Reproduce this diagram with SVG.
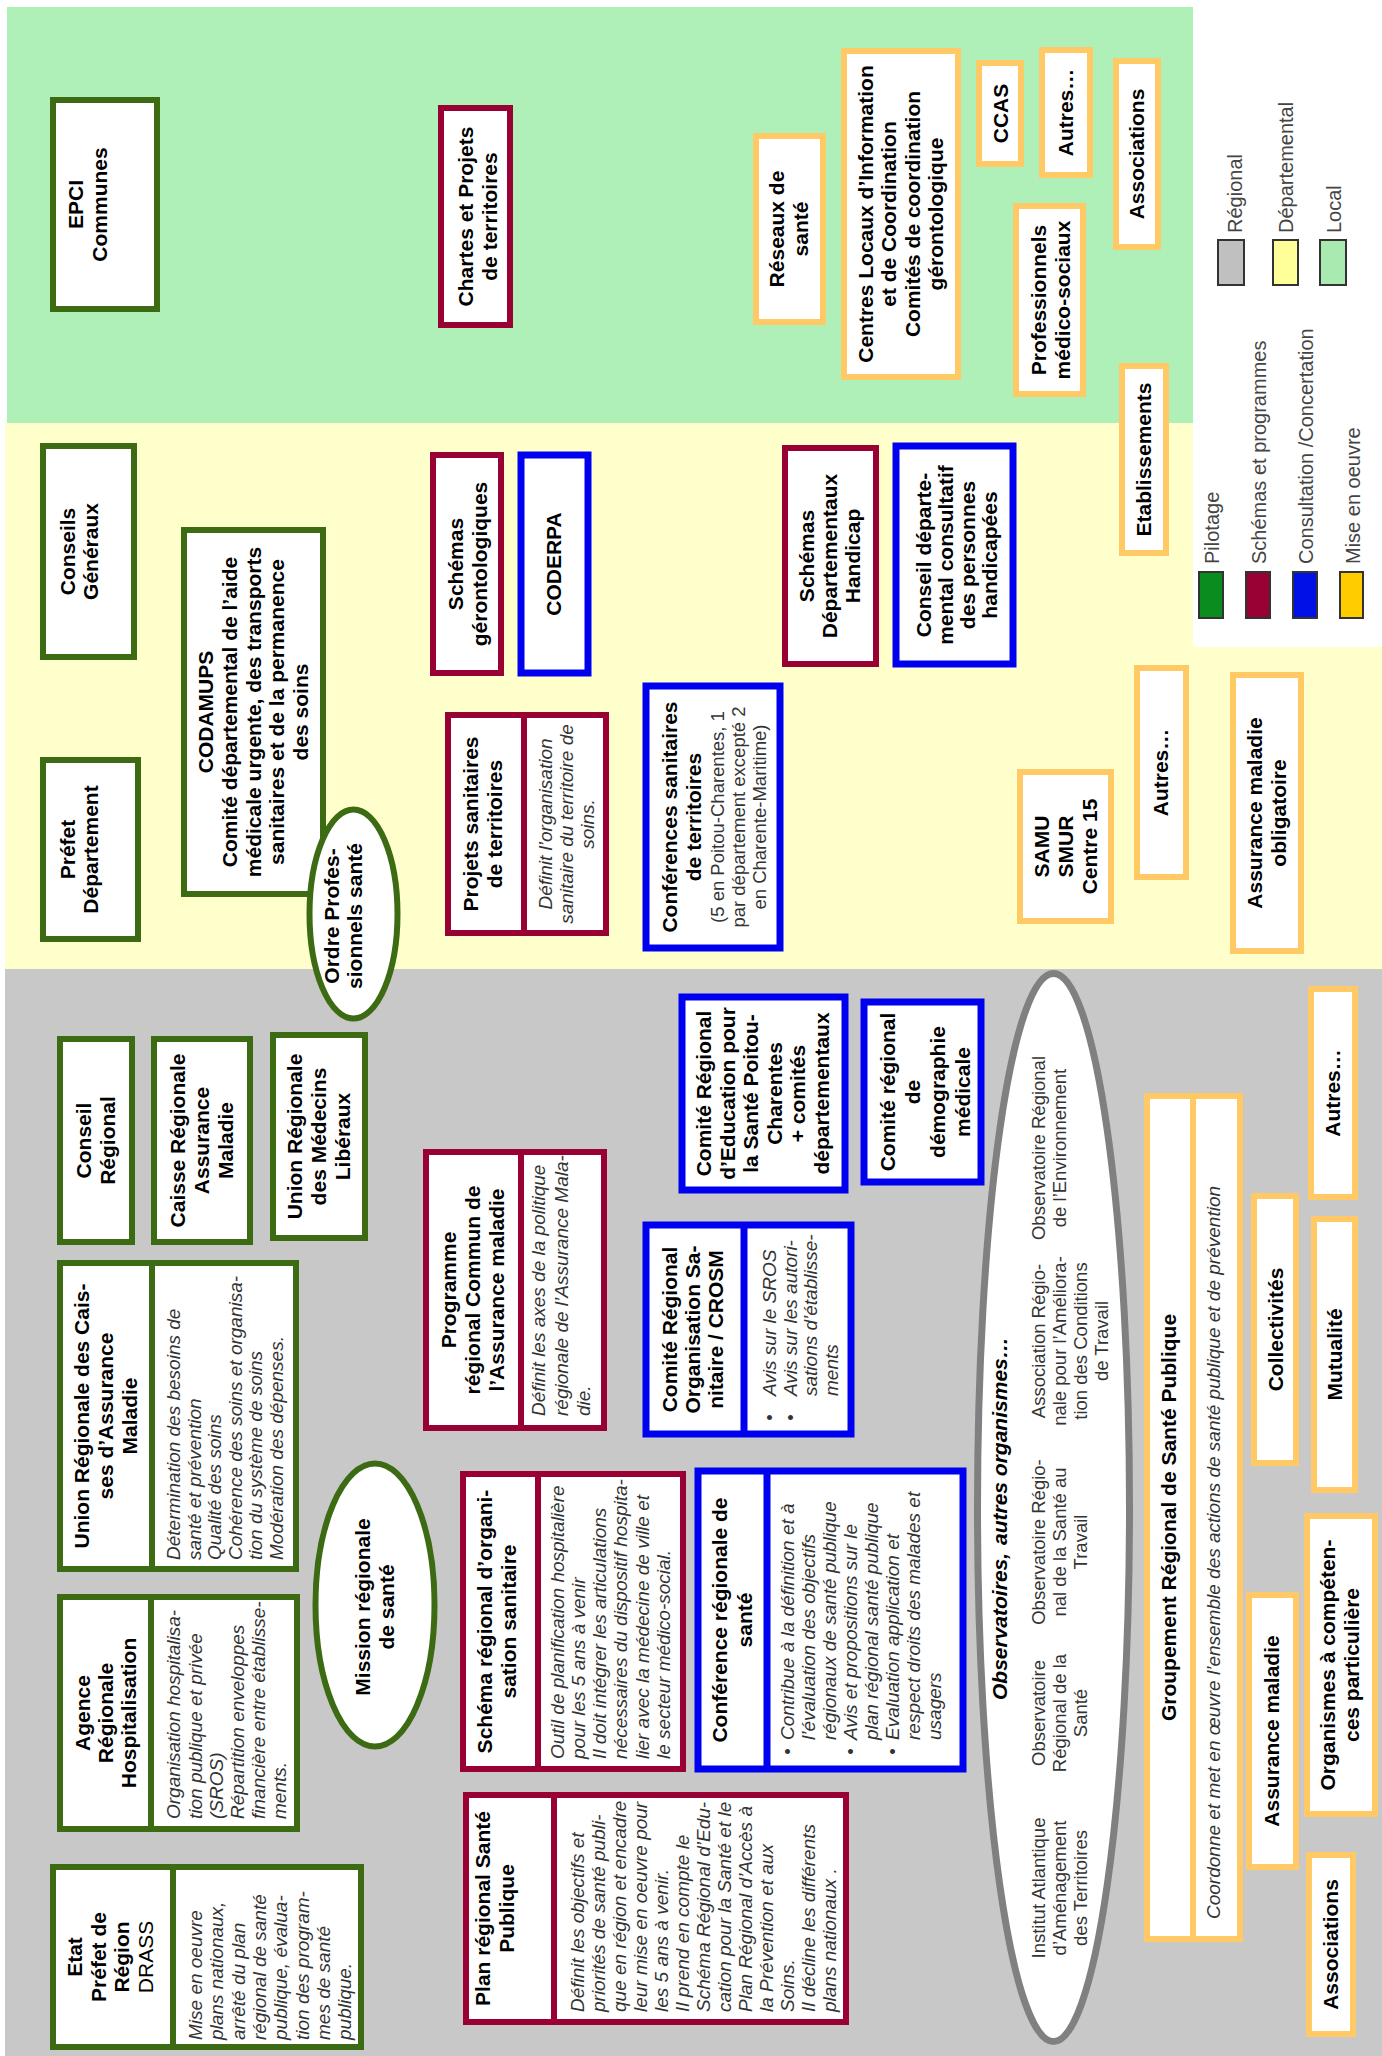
<svg xmlns="http://www.w3.org/2000/svg" width="1382" height="2056" viewBox="0 0 1382 2056">
<style>
.pil{fill:#fff;stroke:#3d6b13;stroke-width:6}
.sch{fill:#fff;stroke:#990033;stroke-width:6}
.con{fill:#fff;stroke:#0000f0;stroke-width:7}
.mis{fill:#fff;stroke:#ffc966;stroke-width:6}
.dvp{stroke:#3d6b13;stroke-width:6}
.dvs{stroke:#990033;stroke-width:6}
.dvc{stroke:#0000f0;stroke-width:7}
.dvm{stroke:#ffc966;stroke-width:6}
text{font-family:"Liberation Sans",Arial,Helvetica,sans-serif}
.t{font-weight:bold;font-size:21px;text-anchor:middle;fill:#000}
.tn{font-weight:normal}
.d{font-style:italic;font-size:19px;fill:#333}
.dc{text-anchor:middle}
.n{font-size:18.5px;text-anchor:middle;fill:#333}
.o{font-size:18.5px;text-anchor:middle;fill:#333}
.oh{font-size:21px;font-weight:bold;font-style:italic;fill:#000}
.lg{font-size:20px;fill:#444}
.sw{stroke:#333;stroke-width:2}
</style>
<rect x="0" y="0" width="1382" height="2056" fill="#fff"/>
<g transform="translate(0,2056) rotate(-90)">
<g id="zones">
<rect x="0" y="5" width="1087" height="1377" fill="#c8c8c8"/>
<rect x="1087" y="5" width="546" height="1377" fill="#ffffcc"/>
<rect x="1409" y="1193" width="647" height="189" fill="#fff"/>
<rect x="1633" y="7" width="416" height="1186" fill="#aef0b7"/>
</g>
<g id="legend">
<rect class="sw" x="1771" y="1218" width="45" height="26" fill="#c0c0c0"/>
<rect class="sw" x="1771" y="1273" width="45" height="25" fill="#ffff99"/>
<rect class="sw" x="1771" y="1320" width="45" height="26" fill="#a8eab0"/>
<text class="lg" x="1823" y="1242">Régional</text>
<text class="lg" x="1823" y="1293">Départemental</text>
<text class="lg" x="1823" y="1341">Local</text>
<rect class="sw" x="1438" y="1199" width="46" height="24" fill="#0b8c1e"/>
<rect class="sw" x="1438" y="1246" width="46" height="24" fill="#990033"/>
<rect class="sw" x="1438" y="1293" width="46" height="24" fill="#0010e6"/>
<rect class="sw" x="1438" y="1340" width="46" height="23" fill="#ffcc00"/>
<text class="lg" x="1492" y="1219">Pilotage</text>
<text class="lg" x="1492" y="1266">Schémas et programmes</text>
<text class="lg" x="1492" y="1313">Consultation /Concertation</text>
<text class="lg" x="1492" y="1360">Mise en oeuvre</text>
</g>
<g id="connectors"></g>

<g id="epci"><rect class="pil" x="1747" y="53" width="209" height="104"/>
<text class="t"><tspan x="1851.5" y="83">EPCI</tspan><tspan x="1851.5" y="107">Communes</tspan></text></g>
<g id="chartes"><rect class="sch" x="1731" y="441" width="217" height="69"/>
<text class="t"><tspan x="1839.5" y="473">Chartes et Projets</tspan><tspan x="1839.5" y="497">de territoires</tspan></text></g>
<g id="reseaux"><rect class="mis" x="1734" y="756" width="186" height="67"/>
<text class="t"><tspan x="1827" y="784">Réseaux de</tspan><tspan x="1827" y="808">santé</tspan></text></g>
<g id="clic"><rect class="mis" x="1679" y="844" width="326" height="114"/>
<text class="t"><tspan x="1842" y="873">Centres Locaux d’Information</tspan><tspan x="1842" y="896">et de Coordination</tspan><tspan x="1842" y="920">Comités de coordination</tspan><tspan x="1842" y="943">gérontologique</tspan></text></g>
<g id="ccas"><rect class="mis" x="1892" y="979" width="101" height="42"/>
<text class="t" x="1942.5" y="1008">CCAS</text></g>
<g id="autres-local"><rect class="mis" x="1881" y="1042" width="125" height="48"/>
<text class="t" x="1943.5" y="1073">Autres…</text></g>
<g id="pro-medsoc"><rect class="mis" x="1662" y="1016" width="188" height="67"/>
<text class="t"><tspan x="1756" y="1046">Professionnels</tspan><tspan x="1756" y="1070">médico-sociaux</tspan></text></g>
<g id="assoc-local"><rect class="mis" x="1809" y="1116" width="186" height="42"/>
<text class="t" x="1902" y="1144">Associations</text></g>
<g id="etablissements"><rect class="mis" x="1503" y="1122" width="187" height="44"/>
<text class="t" x="1596.5" y="1151">Etablissements</text></g>

<g id="conseils-generaux"><rect class="pil" x="1399" y="43" width="211" height="91"/>
<text class="t"><tspan x="1504.5" y="75">Conseils</tspan><tspan x="1504.5" y="98">Généraux</tspan></text></g>
<g id="prefet-dep"><rect class="pil" x="1117" y="43" width="179" height="95"/>
<text class="t"><tspan x="1206.5" y="75">Préfet</tspan><tspan x="1206.5" y="98">Département</tspan></text></g>
<g id="codamups"><rect class="pil" x="1162" y="184" width="364" height="139"/>
<text class="t"><tspan x="1344" y="213">CODAMUPS</tspan><tspan x="1344" y="237">Comité départemental de l’aide</tspan><tspan x="1344" y="260.5">médicale urgente, des transports</tspan><tspan x="1344" y="284">sanitaires et de la permanence</tspan><tspan x="1344" y="307.5">des soins</tspan></text></g>
<g id="ordre"><ellipse class="pil" cx="1142" cy="353.5" rx="104.5" ry="44"/>
<text class="t"><tspan x="1140" y="339">Ordre Profes-</tspan><tspan x="1140" y="362">sionnels santé</tspan></text></g>
<g id="schemas-geronto"><rect class="sch" x="1383" y="433" width="218" height="68"/>
<text class="t"><tspan x="1492" y="463">Schémas</tspan><tspan x="1492" y="487">gérontologiques</tspan></text></g>
<g id="coderpa"><rect class="con" x="1383" y="521" width="218" height="67"/>
<text class="t" x="1492" y="561">CODERPA</text></g>
<g id="projets-sanitaires"><rect class="sch" x="1123" y="448" width="218" height="158"/>
<line class="dvs" x1="1123" y1="524" x2="1341" y2="524"/>
<text class="t"><tspan x="1232" y="478">Projets sanitaires</tspan><tspan x="1232" y="502">de territoires</tspan></text>
<text class="d dc"><tspan x="1232" y="552">Définit l’organisation</tspan><tspan x="1232" y="573">sanitaire du territoire de</tspan><tspan x="1232" y="594">soins.</tspan></text></g>
<g id="conf-sanitaires"><rect class="con" x="1108" y="646" width="262" height="134"/>
<text class="t"><tspan x="1239" y="677">Conférences sanitaires</tspan><tspan x="1239" y="701">de territoires</tspan></text>
<text class="n"><tspan x="1239" y="724">(5 en Poitou-Charentes, 1</tspan><tspan x="1239" y="745">par département excepté 2</tspan><tspan x="1239" y="766">en Charente-Maritime)</tspan></text></g>
<g id="schemas-handicap"><rect class="sch" x="1392" y="785" width="216" height="91"/>
<text class="t"><tspan x="1500" y="814">Schémas</tspan><tspan x="1500" y="837">Départementaux</tspan><tspan x="1500" y="860">Handicap</tspan></text></g>
<g id="conseil-handicap"><rect class="con" x="1392" y="896" width="218" height="117"/>
<text class="t"><tspan x="1501" y="931">Conseil départe-</tspan><tspan x="1501" y="953">mental consultatif</tspan><tspan x="1501" y="975">des personnes</tspan><tspan x="1501" y="997">handicapées</tspan></text></g>
<g id="samu"><rect class="mis" x="1135" y="1020" width="149" height="91"/>
<text class="t"><tspan x="1209.5" y="1049">SAMU</tspan><tspan x="1209.5" y="1073">SMUR</tspan><tspan x="1209.5" y="1097">Centre 15</tspan></text></g>
<g id="autres-dep"><rect class="mis" x="1179" y="1137" width="209" height="49"/>
<text class="t" x="1283.5" y="1168">Autres…</text></g>
<g id="am-obligatoire"><rect class="mis" x="1105" y="1233" width="276" height="68"/>
<text class="t"><tspan x="1243" y="1262">Assurance maladie</tspan><tspan x="1243" y="1286">obligatoire</tspan></text></g>

<g id="conseil-regional"><rect class="pil" x="814" y="60" width="203" height="72"/>
<text class="t"><tspan x="915.5" y="91">Conseil</tspan><tspan x="915.5" y="115">Régional</tspan></text></g>
<g id="cram"><rect class="pil" x="814" y="154" width="203" height="96"/>
<text class="t"><tspan x="915.5" y="185">Caisse Régionale</tspan><tspan x="915.5" y="209">Assurance</tspan><tspan x="915.5" y="233">Maladie</tspan></text></g>
<g id="urml"><rect class="pil" x="818" y="273" width="203" height="92"/>
<text class="t"><tspan x="919.5" y="302">Union Régionale</tspan><tspan x="919.5" y="326">des Médecins</tspan><tspan x="919.5" y="350">Libéraux</tspan></text></g>
<g id="urcam"><rect class="pil" x="487" y="60" width="306" height="236"/>
<line class="dvp" x1="487" y1="152" x2="793" y2="152"/>
<text class="t"><tspan x="640" y="89">Union Régionale des Cais-</tspan><tspan x="640" y="113">ses  d’Assurance</tspan><tspan x="640" y="137">Maladie</tspan></text>
<text class="d"><tspan x="496" y="180">Détermination des besoins de</tspan><tspan x="496" y="200.5">santé et prévention</tspan><tspan x="496" y="221">Qualité des soins</tspan><tspan x="496" y="241.5">Cohérence des soins et organisa-</tspan><tspan x="496" y="262">tion du système de soins</tspan><tspan x="496" y="282.5">Modération des dépenses.</tspan></text></g>
<g id="prgc"><rect class="sch" x="628" y="426" width="276" height="178"/>
<line class="dvs" x1="628" y1="521" x2="904" y2="521"/>
<text class="t"><tspan x="766" y="456">Programme</tspan><tspan x="766" y="480">régional Commun de</tspan><tspan x="766" y="504">l’Assurance maladie</tspan></text>
<text class="d"><tspan x="640" y="545">Définit les axes de la politique</tspan><tspan x="640" y="567.5">régionale de l’Assurance Mala-</tspan><tspan x="640" y="590">die.</tspan></text></g>
<g id="mission"><ellipse class="pil" cx="451" cy="375" rx="141.5" ry="59.5"/>
<text class="t"><tspan x="449" y="370">Mission régionale</tspan><tspan x="449" y="394">de santé</tspan></text></g>
<g id="cres"><rect class="con" x="866" y="682" width="193" height="163"/>
<text class="t"><tspan x="962.5" y="711">Comité Régional</tspan><tspan x="962.5" y="735">d’Education pour</tspan><tspan x="962.5" y="758">la Santé Poitou-</tspan><tspan x="962.5" y="782">Charentes</tspan><tspan x="962.5" y="805">+ comités</tspan><tspan x="962.5" y="829">départementaux</tspan></text></g>
<g id="demographie"><rect class="con" x="874" y="864" width="180" height="117"/>
<text class="t"><tspan x="964" y="895">Comité régional</tspan><tspan x="964" y="920">de</tspan><tspan x="964" y="945">démographie</tspan><tspan x="964" y="970">médicale</tspan></text></g>
<g id="crosm"><rect class="con" x="622" y="646" width="209" height="205"/>
<line class="dvc" x1="622" y1="744" x2="831" y2="744"/>
<text class="t"><tspan x="726.5" y="677">Comité Régional</tspan><tspan x="726.5" y="700">Organisation Sa-</tspan><tspan x="726.5" y="723">nitaire / CROSM</tspan></text>
<text class="d"><tspan x="635" y="776">•</tspan><tspan x="635" y="797">•</tspan></text>
<text class="d"><tspan x="660" y="776">Avis sur le SROS</tspan><tspan x="660" y="797">Avis sur les autori-</tspan><tspan x="660" y="817">sations d’établisse-</tspan><tspan x="660" y="838">ments</tspan></text></g>
<g id="sros"><rect class="sch" x="287" y="463" width="295" height="220"/>
<line class="dvs" x1="287" y1="538" x2="582" y2="538"/>
<text class="t"><tspan x="434.5" y="492">Schéma régional d’organi-</tspan><tspan x="434.5" y="516">sation sanitaire</tspan></text>
<text class="d"><tspan x="297" y="564">Outil de planification hospitalière</tspan><tspan x="297" y="585">pour les 5 ans à venir</tspan><tspan x="297" y="606">Il doit intégrer les articulations</tspan><tspan x="297" y="627">nécessaires du dispositif hospita-</tspan><tspan x="297" y="648.5">lier avec la médecine de ville et</tspan><tspan x="297" y="670">le secteur médico-social.</tspan></text></g>
<g id="crs"><rect class="con" x="287" y="698" width="298" height="265"/>
<line class="dvc" x1="287" y1="767" x2="585" y2="767"/>
<text class="t"><tspan x="436" y="727">Conférence régionale de</tspan><tspan x="436" y="751.5">santé</tspan></text>
<text class="d"><tspan x="301" y="794">•</tspan><tspan x="301" y="857">•</tspan><tspan x="301" y="899">•</tspan></text>
<text class="d"><tspan x="316" y="794">Contribue à la définition et à</tspan><tspan x="316" y="815">l’évaluation des objectifs</tspan><tspan x="316" y="836">régionaux de santé publique</tspan><tspan x="316" y="857">Avis et propositions sur le</tspan><tspan x="316" y="878">plan régional santé publique</tspan><tspan x="316" y="899">Evaluation application et</tspan><tspan x="316" y="920">respect droits des malades et</tspan><tspan x="316" y="941">usagers</tspan></text></g>
<g id="observatoires"><ellipse cx="548.5" cy="1053.5" rx="534" ry="76" fill="#fff" stroke="#808080" stroke-width="7"/>
<text class="oh" x="356" y="1007">Observatoires,</text>
<text class="oh" x="511" y="1007">autres organismes…</text>
<text class="o"><tspan x="168" y="1045">Institut Atlantique</tspan><tspan x="168" y="1066">d’Aménagement</tspan><tspan x="168" y="1087">des Territoires</tspan></text>
<text class="o"><tspan x="343" y="1045">Observatoire</tspan><tspan x="343" y="1066">Régional de la</tspan><tspan x="343" y="1087">Santé</tspan></text>
<text class="o"><tspan x="514" y="1045">Observatoire Régio-</tspan><tspan x="514" y="1066">nal de la Santé au</tspan><tspan x="514" y="1087">Travail</tspan></text>
<text class="o"><tspan x="715" y="1045">Association Régio-</tspan><tspan x="715" y="1066">nale pour l’Améliora-</tspan><tspan x="715" y="1087">tion des Conditions</tspan><tspan x="715" y="1108">de Travail</tspan></text>
<text class="o"><tspan x="908" y="1045">Observatoire Régional</tspan><tspan x="908" y="1066">de l’Environnement</tspan></text></g>
<g id="grsp"><rect class="mis" x="117" y="1147" width="843" height="93"/>
<line class="dvm" x1="117" y1="1193" x2="960" y2="1193"/>
<text class="t" x="538.5" y="1176">Groupement Régional de Santé Publique</text>
<text class="d" x="137" y="1220">Coordonne et met en œuvre l’ensemble des actions de santé publique et de prévention</text></g>
<g id="collectivites"><rect class="mis" x="593" y="1254" width="267" height="42"/>
<text class="t" x="726.5" y="1283">Collectivités</text></g>
<g id="autres-reg"><rect class="mis" x="859" y="1311" width="208" height="44"/>
<text class="t" x="963" y="1340">Autres…</text></g>
<g id="mutualite"><rect class="mis" x="566" y="1314" width="271" height="41"/>
<text class="t" x="701.5" y="1342">Mutualité</text></g>
<g id="assurance-maladie"><rect class="mis" x="189" y="1249" width="272" height="47"/>
<text class="t" x="325" y="1279">Assurance maladie</text></g>
<g id="organismes"><rect class="mis" x="242" y="1307" width="298" height="68"/>
<text class="t"><tspan x="391" y="1335">Organismes à compéten-</tspan><tspan x="391" y="1359">ces particulière</tspan></text></g>
<g id="assoc-reg"><rect class="mis" x="22" y="1309" width="179" height="44"/>
<text class="t" x="111.5" y="1338">Associations</text></g>
<g id="arh"><rect class="pil" x="227" y="60" width="232" height="237"/>
<line class="dvp" x1="227" y1="151" x2="459" y2="151"/>
<text class="t"><tspan x="343" y="89.5">Agence</tspan><tspan x="343" y="112.5">Régionale</tspan><tspan x="343" y="135.5">Hospitalisation</tspan></text>
<text class="d"><tspan x="237" y="180">Organisation hospitalisa-</tspan><tspan x="237" y="201.5">tion publique et privée</tspan><tspan x="237" y="222.5">(SROS)</tspan><tspan x="237" y="244">Répartition enveloppes</tspan><tspan x="237" y="265">financière entre établisse-</tspan><tspan x="237" y="286">ments.</tspan></text></g>
<g id="etat"><rect class="pil" x="9" y="53" width="180" height="308"/>
<line class="dvp" x1="9" y1="173" x2="189" y2="173"/>
<text class="t"><tspan x="99" y="82">Etat</tspan><tspan x="99" y="105.5">Préfet de</tspan><tspan x="99" y="129">Région</tspan><tspan x="99" y="152.5" class="tn">DRASS</tspan></text>
<text class="d"><tspan x="16" y="202">Mise en oeuvre</tspan><tspan x="16" y="223">plans nationaux,</tspan><tspan x="16" y="244.5">arrêté du plan</tspan><tspan x="16" y="266">régional de santé</tspan><tspan x="16" y="287">publique, évalua-</tspan><tspan x="16" y="308.5">tion des program-</tspan><tspan x="16" y="330">mes de santé</tspan><tspan x="16" y="351">publique.</tspan></text></g>
<g id="prsp"><rect class="sch" x="34" y="466" width="227" height="380"/>
<line class="dvs" x1="34" y1="554" x2="261" y2="554"/>
<text class="t"><tspan x="147.5" y="490">Plan régional Santé</tspan><tspan x="147.5" y="514">Publique</tspan></text>
<text class="d"><tspan x="44" y="584">Définit les objectifs et</tspan><tspan x="44" y="605">priorités de santé publi-</tspan><tspan x="44" y="626">que en région et encadre</tspan><tspan x="44" y="647">leur mise en oeuvre pour</tspan><tspan x="44" y="668">les 5 ans à venir.</tspan><tspan x="44" y="689">Il prend en compte le</tspan><tspan x="44" y="710">Schéma Régional d’Edu-</tspan><tspan x="44" y="731">cation pour la Santé et le</tspan><tspan x="44" y="752">Plan Régional d’Accès à</tspan><tspan x="44" y="773">la Prévention et aux</tspan><tspan x="44" y="794">Soins.</tspan><tspan x="44" y="815">Il décline les différents</tspan><tspan x="44" y="836">plans nationaux .</tspan></text></g>
</g>
</svg>
